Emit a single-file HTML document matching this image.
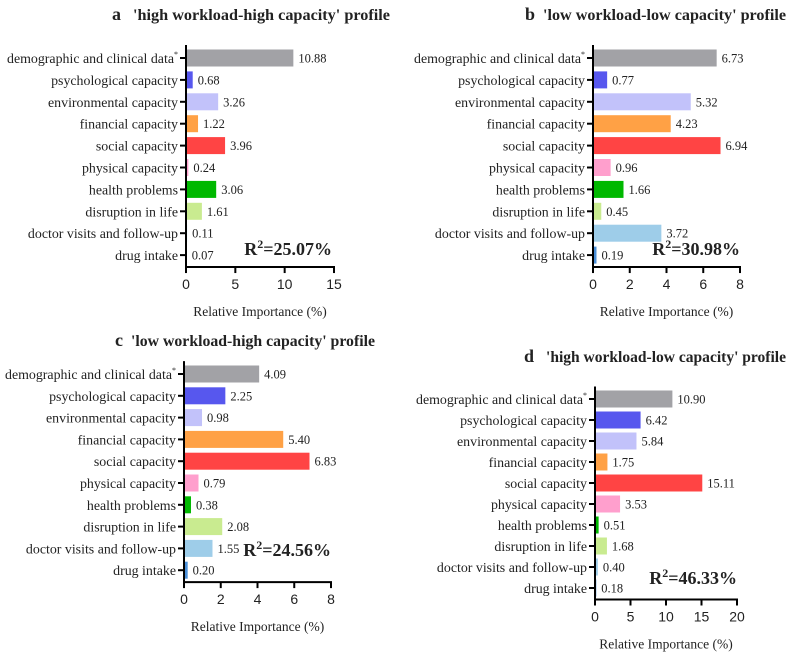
<!DOCTYPE html>
<html><head><meta charset="utf-8"><style>
body{margin:0;background:#fff;width:790px;height:654px;overflow:hidden}
svg text{font-family:"Liberation Serif",serif;fill:#222}
</style></head><body>
<svg id="chart" width="790" height="654" xmlns="http://www.w3.org/2000/svg"></svg>
<script>
const categories=["demographic and clinical data","psychological capacity","environmental capacity","financial capacity","social capacity","physical capacity","health problems","disruption in life","doctor visits and follow-up","drug intake"];
const valuesA=[10.88,0.68,3.26,1.22,3.96,0.24,3.06,1.61,0.11,0.07];
const valuesB=[6.73,0.77,5.32,4.23,6.94,0.96,1.66,0.45,3.72,0.19];
const valuesC=[4.09,2.25,0.98,5.40,6.83,0.79,0.38,2.08,1.55,0.20];
const valuesD=[10.90,6.42,5.84,1.75,15.11,3.53,0.51,1.68,0.40,0.18];
const ticksA=[0,5,10,15];
const ticksB=[0,2,4,6,8];
const ticksC=[0,2,4,6,8];
const ticksD=[0,5,10,15,20];
const colors=["#a2a2a6","#5757ee","#c2c2fa","#ffa145","#ff4444","#ff9fcd","#00b800","#c9eb90","#9ecde9","#4a8fd8"];
const svg=document.getElementById('chart');
const NS="http://www.w3.org/2000/svg";
function mk(tag,attrs,parent){const e=document.createElementNS(NS,tag);for(const k in attrs)e.setAttribute(k,attrs[k]);(parent||svg).appendChild(e);return e;}
function panel(p){
  const g=mk('g',{});
  
  
  const max=p.ticks[p.ticks.length-1];
  const xs=v=>p.x0+(p.x1-p.x0)*v/max;
  const ys=i=>p.yTop+i*p.step;
  const pl=mk('text',{x:p.tx,y:p.ty,'font-size':18,'font-weight':'bold'},g);
  pl.textContent=p.id;
  
  
  const t=mk('text',{x:p.tx2,y:p.ty,'font-size':16.2,'font-weight':'bold',textLength:p.tw,lengthAdjust:'spacingAndGlyphs'},g);
  t.textContent="'"+p.title+"' profile";
  
  
  const top=ys(0)-p.step/2-2, bot=ys(categories.length-1)+p.step/2+1;
  categories.forEach((c,i)=>{
    const y=ys(i);
    const b=mk('rect',{x:xs(0),y:y-8.5,width:Math.max(0,xs(p.vals[i])-xs(0)),height:17,fill:colors[i]},g);
    
    
    mk('line',{x1:p.x0-6,x2:p.x0,y1:y,y2:y,stroke:'#000','stroke-width':2},g);
    const l=mk('text',{x:p.x0-8,y:y+5,'font-size':13.9,'text-anchor':'end'},g);
    l.textContent=c;
    if(i===0){const s=mk('tspan',{'font-size':8,dy:-6},l);s.textContent='*';}
    
    
    const v=mk('text',{x:xs(p.vals[i])+5,y:y+4.5,'font-size':12.5},g);
    v.textContent=p.vals[i].toFixed(2);
    
    
  });
  mk('line',{x1:p.x0,x2:p.x0,y1:top,y2:bot,stroke:'#000','stroke-width':2},g);
  mk('line',{x1:p.x0-1,x2:p.x1+1,y1:bot,y2:bot,stroke:'#000','stroke-width':2},g);
  p.ticks.forEach(tv=>{
    const x=xs(tv);
    mk('line',{x1:x,x2:x,y1:bot,y2:bot+6,stroke:'#000','stroke-width':2},g);
    const tl=mk('text',{x:x,y:bot+22,'font-size':14,'text-anchor':'middle',style:'font-family:"Liberation Sans",sans-serif'},g);
    tl.textContent=tv;
    
    
  });
  const at=mk('text',{x:(p.x0+p.x1)/2,y:bot+49,'font-size':13.5,'text-anchor':'middle'},g);
  at.textContent='Relative Importance (%)';
  
  
  const r=mk('text',{x:p.rx,y:p.ry,'font-size':18,'font-weight':'bold','text-anchor':'end'},g);
  r.innerHTML='R<tspan font-size="12" dy="-7">2</tspan><tspan dy="7">='+p.r2+'</tspan>';
  
  
}
panel({id:'a',title:'high workload-high capacity',vals:valuesA,ticks:ticksA,x0:186,x1:334,yTop:58,step:21.9,tx:112,tx2:133,tw:257,ty:20,rx:332,ry:255,r2:'25.07%'});
panel({id:'b',title:'low workload-low capacity',vals:valuesB,ticks:ticksB,x0:593,x1:740,yTop:58,step:21.9,tx:525,tx2:543,tw:243,ty:20,rx:740,ry:255,r2:'30.98%'});
panel({id:'c',title:'low workload-high capacity',vals:valuesC,ticks:ticksC,x0:184,x1:331,yTop:374,step:21.8,tx:115,tx2:131,tw:244,ty:346,rx:331,ry:556,r2:'24.56%'});
panel({id:'d',title:'high workload-low capacity',vals:valuesD,ticks:ticksD,x0:595,x1:737,yTop:399,step:21,tx:524,tx2:546,tw:240,ty:362,rx:737,ry:584,r2:'46.33%'});
</script>
</body></html>
